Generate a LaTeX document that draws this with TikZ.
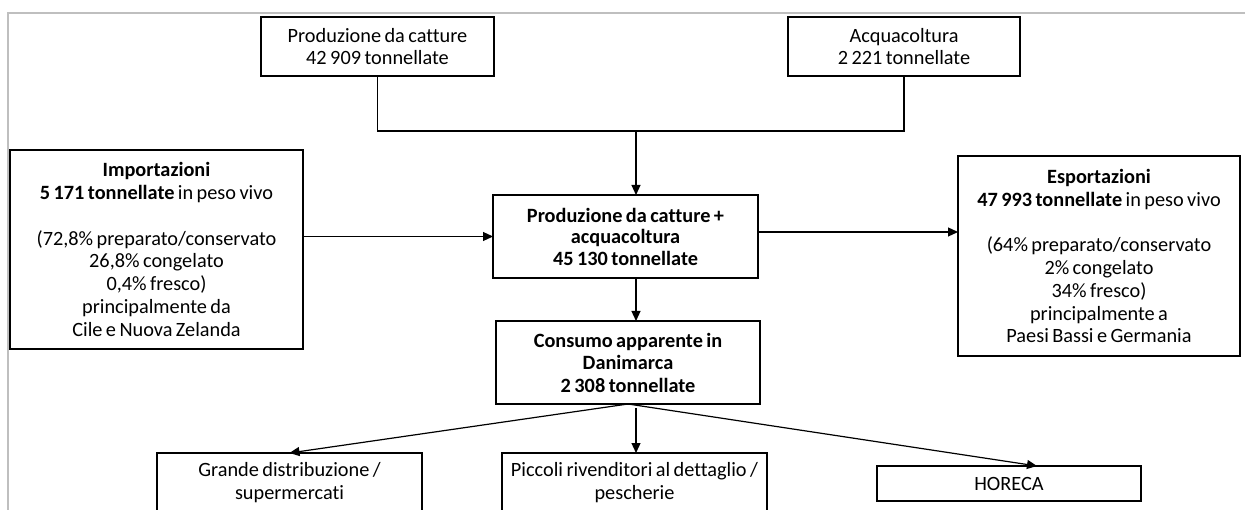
\documentclass[tikz,border=0pt]{standalone}
\usepackage{fontspec}
\setmainfont{Carlito}[Ligatures=CommonOff, WordSpace=0.75]
\usetikzlibrary{arrows.meta}
\begin{document}
\begin{tikzpicture}[x=1pt,y=-1pt,
  box/.style={draw, line width=1.2pt, inner sep=0pt, outer sep=0pt, align=center,
    font=\fontsize{20.3}{22.8}\selectfont},
  conn/.style={line width=1.2pt},
  arr/.style={conn, -{Triangle[length=10pt,width=9pt]}},
  frame/.style={draw=black!25, line width=2pt}]
\useasboundingbox (0,0) rectangle (1245,510);
\clip (0,0) rectangle (1245,510);
\draw[frame] (8,512) -- (8,13.5) -- (1247,13.5);
\node[box, minimum width=233pt, minimum height=59pt] (prod) at (377.5,46.5)
  {Produzione da catture\\42 909 tonnellate};
\node[box, minimum width=232pt, minimum height=59pt] (acq) at (904,46.5)
  {Acquacoltura\\2 221 tonnellate};
\node[box, minimum width=293pt, minimum height=199pt] (imp) at (156.5,249.5)
  {\textbf{Importazioni}\\\textbf{5 171 tonnellate} in peso vivo\\[22.8pt]
   (72,8\% preparato/conservato\\26,8\% congelato\\0,4\% fresco)\\
   principalmente da\\Cile e Nuova Zelanda};
\node[box, minimum width=265pt, minimum height=83pt, font=\fontsize{20.3}{21.5}\selectfont\bfseries] (cen) at (625.5,236.5)
  {Produzione da catture +\\acquacoltura\\45 130 tonnellate};
\node[box, minimum width=282pt, minimum height=200pt] (esp) at (1099,256)
  {\textbf{Esportazioni}\\\textbf{47 993 tonnellate} in peso vivo\\[22.8pt]
   (64\% preparato/conservato\\2\% congelato\\34\% fresco)\\
   principalmente a\\Paesi Bassi e Germania};
\node[box, minimum width=264pt, minimum height=83pt, font=\fontsize{20.3}{22.5}\selectfont\bfseries] (cons) at (628,362.5)
  {Consumo apparente in\\Danimarca\\2 308 tonnellate};
\node[box, minimum width=265pt, minimum height=59pt] (gd) at (289.5,482.5)
  {Grande distribuzione /\\supermercati};
\node[box, minimum width=265pt, minimum height=59pt] (pic) at (634.5,482.5)
  {Piccoli rivenditori al dettaglio /\\pescherie};
\node[box, minimum width=264pt, minimum height=35pt] (hor) at (1009,483.5)
  {HORECA};
\coordinate (j) at (636,131);
\draw[conn] (prod.south) |- (j) -| (acq.south);
\draw[arr] (j) -- (j |- cen.north);
\draw[arr] (imp.east |- cen.west) -- (cen.west);
\draw[arr] ([yshift=4.5pt]cen.east) -- ([yshift=4.5pt]cen.east -| esp.west);
\draw[arr] (cen.south -| j) -- (cons.north -| j);
\draw[arr] ([yshift=-4pt]cons.south -| j) -- (pic.north -| j);
\draw[arr] (cons.south) -- (gd.north);
\draw[arr] (cons.south) -- ([xshift=28pt]hor.north);
\end{tikzpicture}
\end{document}
